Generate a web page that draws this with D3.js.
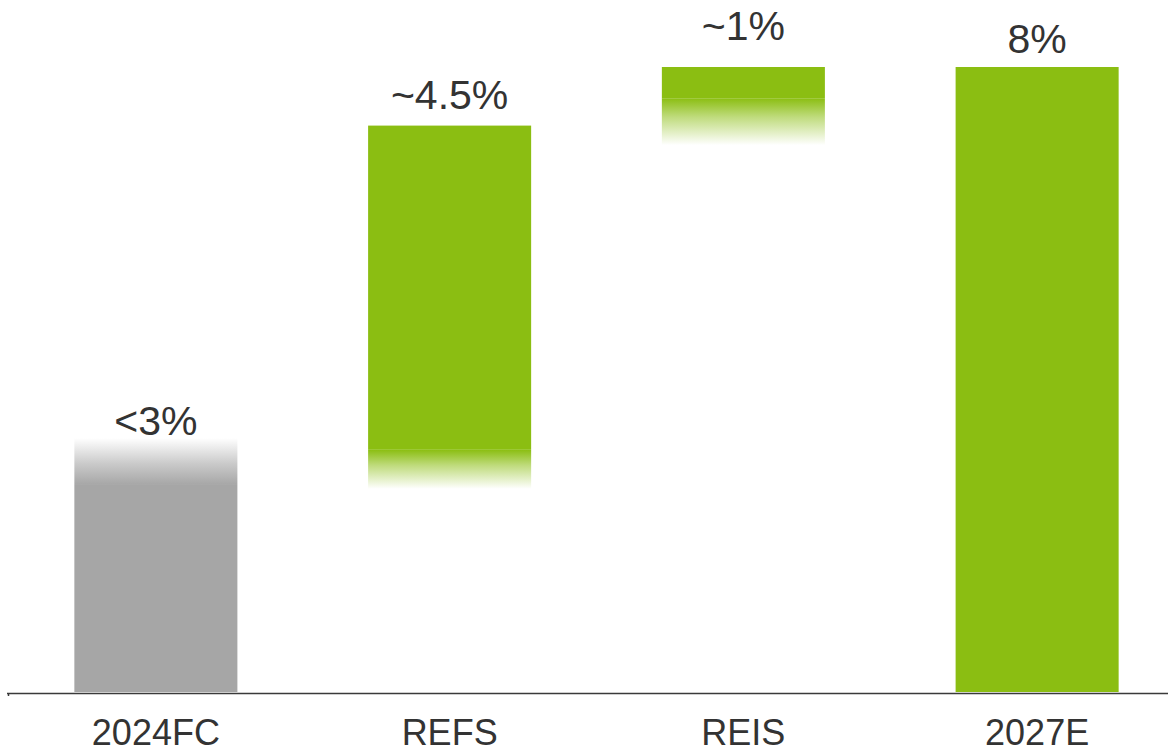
<!DOCTYPE html>
<html>
<head>
<meta charset="utf-8">
<script src="https://cdn.jsdelivr.net/npm/d3@7"></script>
<style>
  html, body { margin: 0; padding: 0; background: #ffffff; }
  svg { display: block; }
  text { font-family: "Liberation Sans", Arial, sans-serif; fill: #333333; }
</style>
</head>
<body>
<script>
// Bridge from the 2024 forecast to the 2027 estimate (in %)
const categories = ["2024FC", "REFS", "REIS", "2027E"];
const barBase    = [0, 2.85, 7.3, 0];
const barValue   = [2.95, 4.4, 0.7, 8];
// soft, uncertain ends of the bars (half-width of the fade, in % points)
const fadeTop    = [0.3, 0, 0, 0];
const fadeBottom = [0, 0.25, 0.3, 0];
const valueLabels = ["<3%", "~4.5%", "~1%", "8%"];
const barKind     = ["base", "step", "step", "total"];

const W = 1168, H = 753;
const colors = { base: "#a6a6a6", step: "#8bbe12", total: "#8bbe12" };
const labelGap = [3, 17, 27, 14];

const svg = d3.select("body").append("svg")
  .attr("width", W).attr("height", H);

const x = d3.scaleBand()
  .domain(categories)
  .range([9, 1184])
  .paddingInner(0.445)
  .paddingOuter(0.2225);

const y = d3.scaleLinear().domain([0, 8]).range([692, 67]);

const bars = categories.map((c, i) => ({
  cat: c,
  lo: barBase[i],
  hi: barBase[i] + barValue[i],
  ft: fadeTop[i],
  fb: fadeBottom[i],
  label: valueLabels[i],
  color: colors[barKind[i]],
  gap: labelGap[i],
  i
}));

const defs = svg.append("defs");
bars.forEach(d => {
  if (d.ft > 0) {
    const g = defs.append("linearGradient")
      .attr("id", "fadeTop" + d.i)
      .attr("x1", 0).attr("x2", 0).attr("y1", 1).attr("y2", 0);
    g.append("stop").attr("offset", "0%").attr("stop-color", d.color).attr("stop-opacity", 1);
    g.append("stop").attr("offset", "45%").attr("stop-color", d.color).attr("stop-opacity", 0.6);
    g.append("stop").attr("offset", "100%").attr("stop-color", d.color).attr("stop-opacity", 0);
  }
  if (d.fb > 0) {
    const g = defs.append("linearGradient")
      .attr("id", "fadeBottom" + d.i)
      .attr("x1", 0).attr("x2", 0).attr("y1", 0).attr("y2", 1);
    g.append("stop").attr("offset", "0%").attr("stop-color", d.color).attr("stop-opacity", 1);
    g.append("stop").attr("offset", "40%").attr("stop-color", d.color).attr("stop-opacity", 0.55);
    g.append("stop").attr("offset", "100%").attr("stop-color", d.color).attr("stop-opacity", 0);
  }
});

const g = svg.append("g");

// solid body of each bar
g.selectAll("rect.solid")
  .data(bars)
  .join("rect")
  .attr("class", "solid")
  .attr("x", d => x(d.cat))
  .attr("width", x.bandwidth())
  .attr("y", d => y(d.hi - d.ft))
  .attr("height", d => y(d.lo + d.fb) - y(d.hi - d.ft))
  .attr("fill", d => d.color);

// faded top ends
g.selectAll("rect.ftop")
  .data(bars.filter(d => d.ft > 0))
  .join("rect")
  .attr("class", "ftop")
  .attr("x", d => x(d.cat))
  .attr("width", x.bandwidth())
  .attr("y", d => y(d.hi + d.ft))
  .attr("height", d => y(d.hi - d.ft) - y(d.hi + d.ft))
  .attr("fill", d => `url(#fadeTop${d.i})`);

// faded bottom ends
g.selectAll("rect.fbot")
  .data(bars.filter(d => d.fb > 0))
  .join("rect")
  .attr("class", "fbot")
  .attr("x", d => x(d.cat))
  .attr("width", x.bandwidth())
  .attr("y", d => y(d.lo + d.fb))
  .attr("height", d => y(d.lo - d.fb) - y(d.lo + d.fb))
  .attr("fill", d => `url(#fadeBottom${d.i})`);

// value labels above each bar
g.selectAll("text.value")
  .data(bars)
  .join("text")
  .attr("class", "value")
  .attr("x", d => x(d.cat) + x.bandwidth() / 2)
  .attr("y", d => y(d.hi + d.ft) - d.gap)
  .attr("text-anchor", "middle")
  .attr("font-size", 41)
  .text(d => d.label);

// baseline
svg.append("line")
  .attr("x1", 7).attr("x2", W)
  .attr("y1", y(0) + 1.5).attr("y2", y(0) + 1.5)
  .attr("stroke", "#3a3a3a").attr("stroke-width", 1.6);
svg.append("line")
  .attr("x1", 8.5).attr("x2", 8.5)
  .attr("y1", y(0) + 1.5).attr("y2", y(0) + 4)
  .attr("stroke", "#3a3a3a").attr("stroke-width", 1.5);

// category axis
const xAxis = svg.append("g")
  .attr("transform", `translate(0,${y(0)})`)
  .call(d3.axisBottom(x).tickSize(0).tickPadding(0));
xAxis.select(".domain").remove();
xAxis.selectAll("text")
  .attr("font-size", 36)
  .attr("font-family", "'Liberation Sans', Arial, sans-serif")
  .attr("fill", "#333333")
  .attr("dy", null)
  .attr("y", 53);
</script>
</body>
</html>
